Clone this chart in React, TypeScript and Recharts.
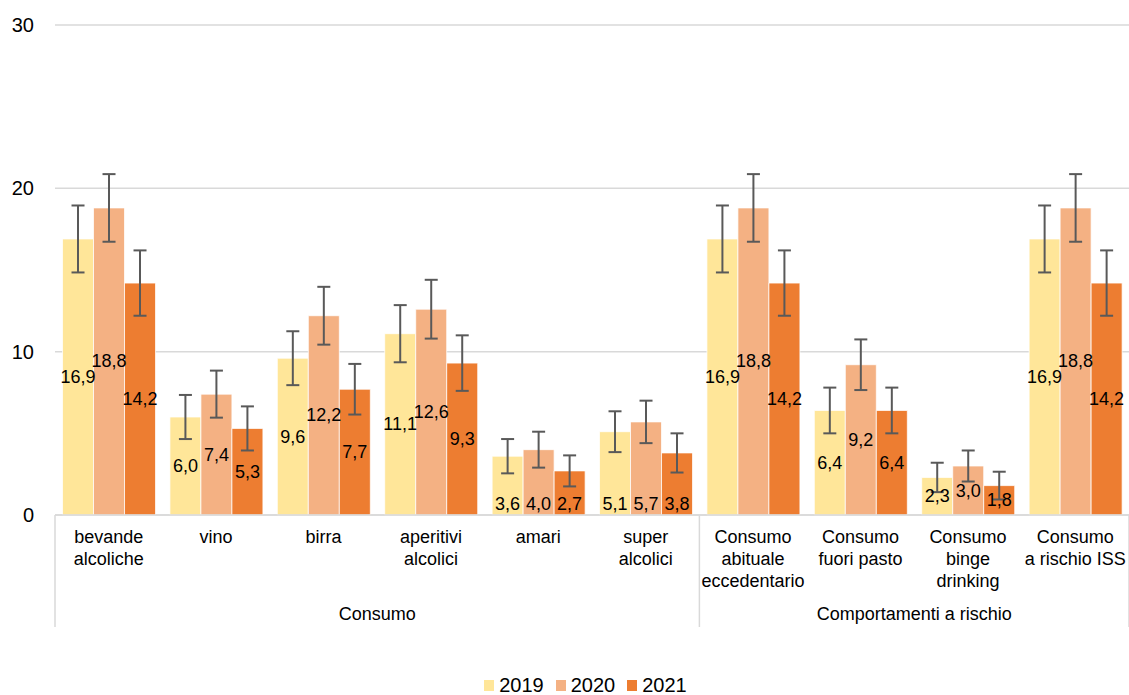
import React from 'react';
import { BarChart, Bar, XAxis, YAxis, CartesianGrid, ErrorBar, LabelList, Legend } from 'recharts';

const categories = [
  'bevande\nalcoliche',
  'vino',
  'birra',
  'aperitivi\nalcolici',
  'amari',
  'super\nalcolici',
  'Consumo\nabituale\neccedentario',
  'Consumo\nfuori pasto',
  'Consumo\nbinge\ndrinking',
  'Consumo\na rischio ISS',
];
const values2019 = [16.9, 6.0, 9.6, 11.1, 3.6, 5.1, 16.9, 6.4, 2.3, 16.9];
const values2020 = [18.8, 7.4, 12.2, 12.6, 4.0, 5.7, 18.8, 9.2, 3.0, 18.8];
const values2021 = [14.2, 5.3, 7.7, 9.3, 2.7, 3.8, 14.2, 6.4, 1.8, 14.2];
const err2019 = [2.05, 1.35, 1.65, 1.75, 1.05, 1.25, 2.05, 1.4, 0.9, 2.05];
const err2020 = [2.07, 1.44, 1.77, 1.8, 1.1, 1.3, 2.07, 1.55, 0.95, 2.07];
const err2021 = [2.0, 1.35, 1.55, 1.7, 0.95, 1.2, 2.0, 1.4, 0.85, 2.0];
const yTicks = [0, 10, 20, 30];
const groupLabels = ['Consumo', 'Comportamenti a rischio'];
const groupCenters = [3, 8];
const groupBounds = [0, 6, 10];
const seriesNames = ['2019', '2020', '2021'];

const data = categories.map((name, i) => ({
  name,
  v2019: values2019[i],
  v2020: values2020[i],
  v2021: values2021[i],
  e2019: err2019[i],
  e2020: err2020[i],
  e2021: err2021[i],
}));

const COLORS = ['#FFE699', '#F4B183', '#ED7D31'];
const FONT = '"Liberation Sans", Arial, sans-serif';
const MAIN_AXIS_HEIGHT = 88;
const BASE_LABEL_INDEX = [4, 5];

const fmt = (v: number) => Number(v).toFixed(1).replace('.', ',');

const renderLabel = (props: any) => {
  const { x, y, width, height, value, index } = props;
  const cx = Number(x) + Number(width) / 2;
  const atBase = BASE_LABEL_INDEX.includes(index);
  const cy = atBase ? Number(y) + Number(height) - 11 : Number(y) + Number(height) / 2;
  return (
    <text x={cx} y={cy} textAnchor="middle" dominantBaseline="central" fontSize={18} fill="#000" fontFamily={FONT}>
      {fmt(value)}
    </text>
  );
};

const CategoryTick = (props: any) => {
  const { x, y, payload } = props;
  const lines = String(payload.value).split('\n');
  return (
    <text x={x} y={y} textAnchor="middle" fontSize={18} fill="#000" fontFamily={FONT}>
      {lines.map((l, i) => (
        <tspan key={i} x={x} dy={i === 0 ? 20 : 22}>
          {l}
        </tspan>
      ))}
    </text>
  );
};

const GroupTick = (props: any) => {
  const { x, y, payload } = props;
  const v = payload.value;
  const gi = groupCenters.indexOf(v);
  if (gi >= 0) {
    return (
      <text x={x} y={y} dy={17} textAnchor="middle" fontSize={18} fill="#000" fontFamily={FONT}>
        {groupLabels[gi]}
      </text>
    );
  }
  return <line x1={x} x2={x} y1={y - MAIN_AXIS_HEIGHT} y2={y + 24} stroke="#d9d9d9" strokeWidth={1.5} />;
};

const LegendContent = (props: any) => {
  const { payload } = props;
  return (
    <div
      style={{
        height: 20,
        lineHeight: '20px',
        display: 'flex',
        justifyContent: 'center',
        alignItems: 'center',
        paddingLeft: 54,
        fontSize: 20,
        fontFamily: FONT,
        color: '#000',
        boxSizing: 'border-box',
      }}
    >
      {(payload || []).map((p: any, i: number) => (
        <div key={i} style={{ display: 'flex', alignItems: 'center', marginRight: 12 }}>
          <span style={{ width: 10, height: 11, background: p.color, display: 'inline-block', marginRight: 5 }} />
          <span>{p.value}</span>
        </div>
      ))}
    </div>
  );
};

const groupAxisKey = () => 0;

export default function App() {
  return (
    <div style={{ position: 'absolute', left: 0, top: 0, fontFamily: FONT }}>
      <BarChart
        width={1129}
        height={695}
        data={data}
        margin={{ top: 25, right: 0, left: 0, bottom: 42 }}
        barCategoryGap="7%"
        barGap={0}
        style={{ fontFamily: FONT }}
      >
        <CartesianGrid horizontal vertical={false} stroke="#d9d9d9" strokeWidth={1.5} />
        <XAxis
          dataKey="name"
          interval={0}
          height={MAIN_AXIS_HEIGHT}
          tickLine={false}
          axisLine={{ stroke: '#d9d9d9', strokeWidth: 1.5 }}
          tick={<CategoryTick />}
        />
        <XAxis
          xAxisId="grp"
          type="number"
          dataKey={groupAxisKey}
          domain={[0, 10]}
          allowDataOverflow
          ticks={[...groupBounds, ...groupCenters]}
          interval={0}
          height={30}
          tickLine={false}
          axisLine={false}
          tickSize={0}
          tickMargin={0}
          tick={<GroupTick />}
        />
        <YAxis
          width={55}
          domain={[0, 30]}
          ticks={yTicks}
          axisLine={false}
          tickLine={false}
          tickMargin={15}
          tick={{ fontSize: 20, fill: '#000', fontFamily: FONT }}
        />
        <Legend verticalAlign="bottom" wrapperStyle={{ bottom: 0, left: 0 }} content={<LegendContent />} />
        {['v2019', 'v2020', 'v2021'].map((k, i) => (
          <Bar
            key={k}
            dataKey={k}
            name={seriesNames[i]}
            fill={COLORS[i]}
            stroke="#ffffff"
            strokeWidth={0.75}
            isAnimationActive={false}
          >
            <ErrorBar dataKey={'e' + k.slice(1)} width={6.5} stroke="#595959" strokeWidth={2} direction="y" />
            <LabelList dataKey={k} content={renderLabel} />
          </Bar>
        ))}
      </BarChart>
    </div>
  );
}
